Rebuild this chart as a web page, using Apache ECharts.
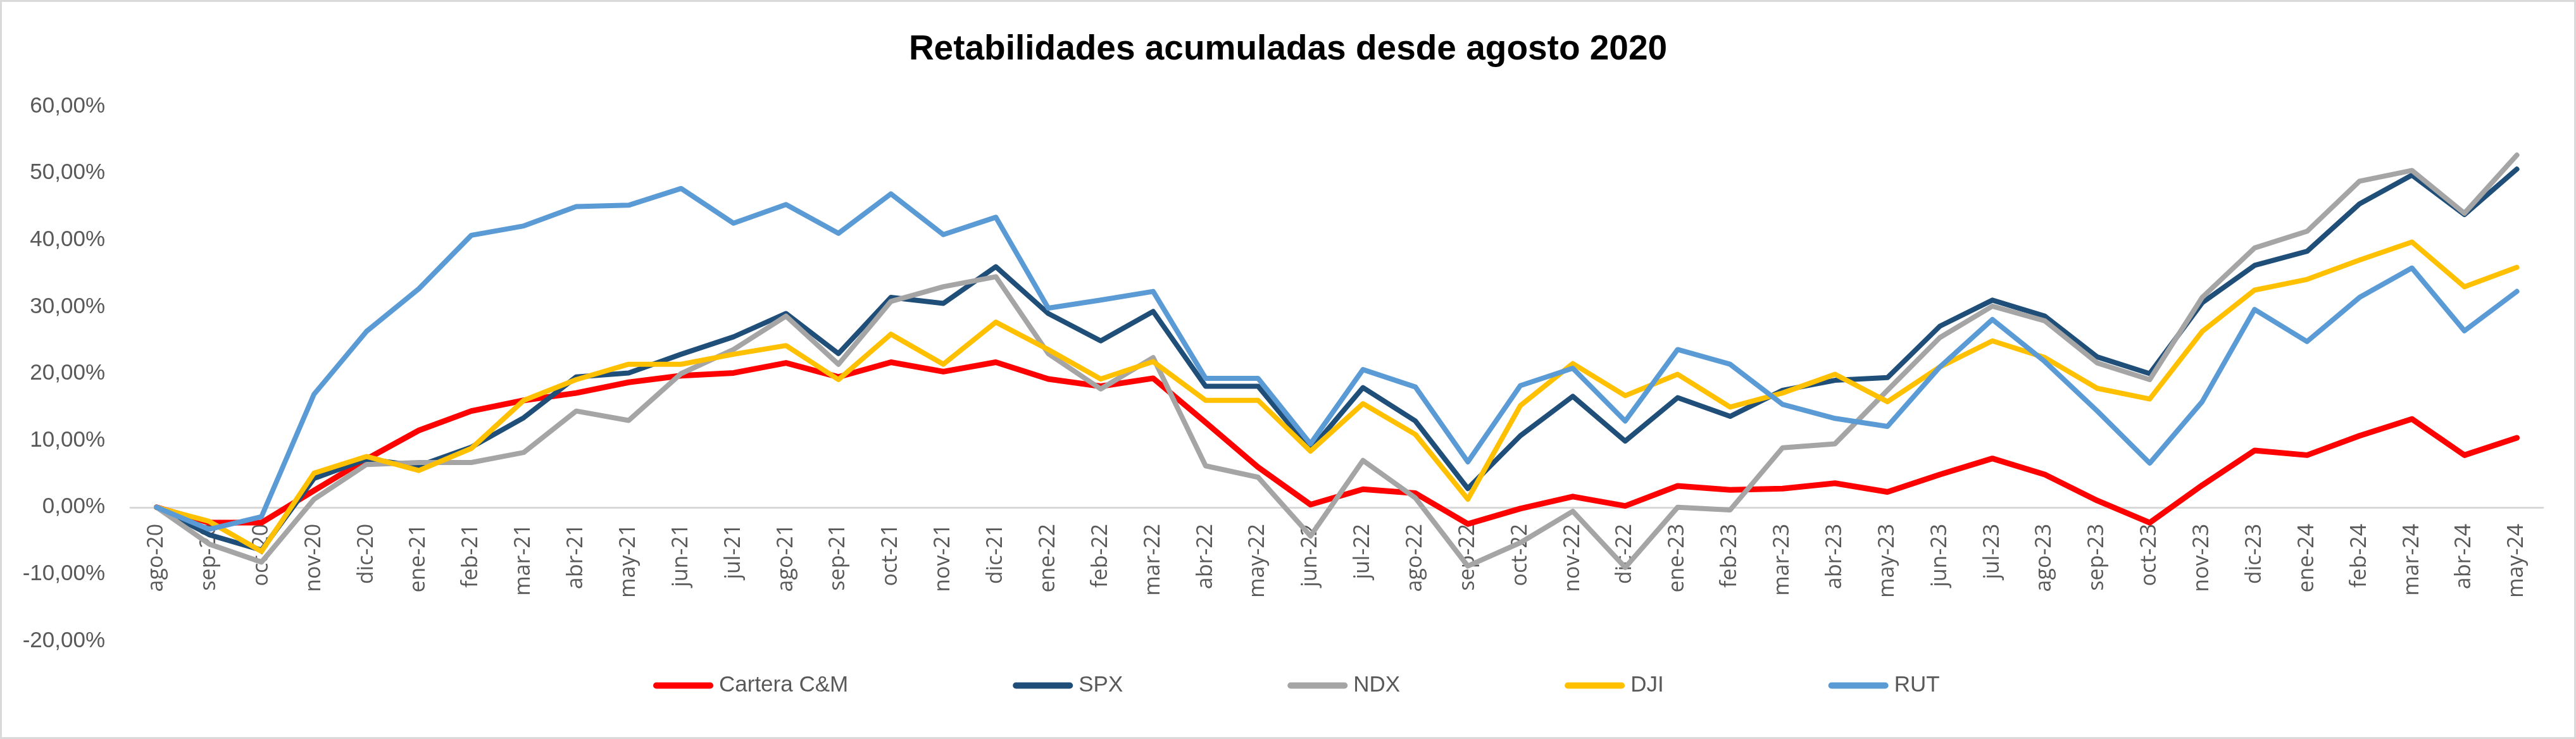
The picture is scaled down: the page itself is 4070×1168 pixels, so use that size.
<!DOCTYPE html>
<html>
<head>
<meta charset="utf-8">
<script src="https://cdn.jsdelivr.net/npm/echarts@6/dist/echarts.min.js"></script>
<style>
html,body{margin:0;padding:0;background:#fff;}
#chart{width:4070px;height:1168px;}
</style>
</head>
<body>
<div id="chart"></div>
<script>
const categories = ['ago-20','sep-20','oct-20','nov-20','dic-20',
  'ene-21','feb-21','mar-21','abr-21','may-21','jun-21','jul-21','ago-21','sep-21','oct-21','nov-21','dic-21',
  'ene-22','feb-22','mar-22','abr-22','may-22','jun-22','jul-22','ago-22','sep-22','oct-22','nov-22','dic-22',
  'ene-23','feb-23','mar-23','abr-23','may-23','jun-23','jul-23','ago-23','sep-23','oct-23','nov-23','dic-23',
  'ene-24','feb-24','mar-24','abr-24','may-24'];

const carteraCM = [0, -2.3, -2.3, 2.5, 7.2, 11.5, 14.4, 16.0, 17.1, 18.7, 19.7, 20.1, 21.6, 19.5, 21.7, 20.3,
  21.7, 19.2, 18.1, 19.3, 12.7, 6.0, 0.4, 2.7, 2.1, -2.5, -0.2, 1.6, 0.2, 3.2, 2.6, 2.8, 3.6, 2.3, 4.9, 7.3,
  4.9, 1.0, -2.3, 3.3, 8.5, 7.8, 10.7, 13.2, 7.8, 10.4];
const spx = [0, -4.1, -6.4, 4.3, 7.2, 6.2, 9.0, 13.4, 19.5, 20.1, 22.9, 25.5, 29.0, 23.0, 31.4, 30.5,
  36.0, 29.0, 24.9, 29.3, 18.1, 18.1, 8.6, 17.9, 12.9, 2.8, 10.7, 16.6, 9.9, 16.4, 13.6, 17.5, 19.0, 19.4, 27.1, 31.0,
  28.6, 22.5, 20.0, 30.6, 36.2, 38.3, 45.4, 49.7, 43.8, 50.6];
const ndx = [0, -5.5, -8.2, 1.2, 6.4, 6.7, 6.7, 8.2, 14.4, 13.0, 20.0, 23.6, 28.6, 21.4, 30.8, 33.0,
  34.5, 23.0, 17.7, 22.4, 6.2, 4.5, -4.3, 7.0, 1.4, -8.8, -5.3, -0.6, -9.0, 0.0, -0.4, 8.9, 9.5, 17.5, 25.4, 30.1,
  27.9, 21.6, 19.1, 31.4, 38.8, 41.3, 48.8, 50.4, 44.0, 52.7];
const dji = [0, -2.1, -6.6, 5.1, 7.6, 5.5, 8.8, 16.0, 19.1, 21.4, 21.4, 22.9, 24.2, 19.1, 25.9, 21.4,
  27.7, 23.6, 19.2, 21.8, 16.0, 16.0, 8.4, 15.5, 10.9, 1.2, 15.2, 21.5, 16.7, 19.9, 15.0, 17.1, 19.9, 15.8, 21.0, 24.9,
  22.4, 17.8, 16.2, 26.3, 32.5, 34.1, 37.0, 39.7, 33.0, 35.9];
const rut = [0, -3.3, -1.4, 16.9, 26.3, 32.7, 40.7, 42.1, 45.0, 45.2, 47.7, 42.5, 45.3, 41.0, 46.9, 40.8,
  43.4, 29.8, 31.0, 32.3, 19.3, 19.3, 9.5, 20.6, 18.0, 6.8, 18.2, 20.8, 12.9, 23.6, 21.4, 15.4, 13.3, 12.1, 21.0, 28.1,
  21.8, 14.4, 6.6, 15.8, 29.6, 24.8, 31.4, 35.8, 26.4, 32.3];

const seriesNames = ['Cartera C&M', 'SPX', 'NDX', 'DJI', 'RUT'];
const seriesColors = ['#FF0000', '#1F4E79', '#A5A5A5', '#FFC000', '#5B9BD5'];
const seriesData = [carteraCM, spx, ndx, dji, rut];
const seriesWidths = [9, 8, 8, 8, 8];

const yMin = -20, yMax = 60;
const gridTop = 168, gridBottom = 155, chartH = 1168;
const gridH = chartH - gridTop - gridBottom;
// move the category axis (line + labels) up to the zero value, as in the original
const zeroOffset = -gridH * (0 - yMin) / (yMax - yMin);

const chart = echarts.init(document.getElementById('chart'), null, {renderer: 'canvas'});
const legendIcon = 'path://M5,0 L90,0 A5,5 0 0 1 90,10 L5,10 A5,5 0 0 1 5,0 Z';

chart.setOption({
  animation: false,
  backgroundColor: '#ffffff',
  title: {
    text: 'Retabilidades acumuladas desde agosto 2020',
    left: 'center',
    top: 46,
    textStyle: {fontFamily: 'Liberation Sans', fontWeight: 'bold', fontSize: 55, color: '#000000'}
  },
  graphic: [{
    type: 'rect', shape: {x: 1.5, y: 1.5, width: 4067, height: 1165},
    style: {fill: 'none', stroke: '#D9D9D9', lineWidth: 3}, silent: true, z: 100
  }],
  legend: {
    left: 1027,
    top: 1061,
    itemGap: 260,
    itemWidth: 95,
    itemHeight: 11,
    textStyle: {fontFamily: 'Liberation Sans', fontSize: 35, color: '#595959', padding: [0, 0, 0, 4]},
    data: seriesNames.map((n, i) => ({name: n, icon: legendIcon, itemStyle: {color: seriesColors[i]}}))
  },
  grid: {left: 206, right: 52, top: gridTop, bottom: gridBottom, containLabel: false},
  xAxis: {
    type: 'category',
    data: categories,
    boundaryGap: true,
    offset: zeroOffset,
    axisLine: {show: true, onZero: false, lineStyle: {color: '#D9D9D9', width: 3}},
    axisTick: {show: false},
    axisLabel: {interval: 0, rotate: 90, margin: 26, fontFamily: 'Open Sans', fontSize: 34, color: '#595959'},
    splitLine: {show: false},
    z: 1
  },
  yAxis: {
    type: 'value',
    min: yMin, max: yMax, interval: 10,
    axisLine: {show: false},
    axisTick: {show: false},
    splitLine: {show: false},
    axisLabel: {
      margin: 40,
      fontFamily: 'Liberation Sans', fontSize: 35, color: '#595959',
      formatter: v => v.toFixed(2).replace('.', ',') + '%'
    }
  },
  series: seriesNames.map((n, i) => ({
    name: n,
    type: 'line',
    data: seriesData[i],
    showSymbol: false,
    symbol: 'none',
    lineStyle: {color: seriesColors[i], width: seriesWidths[i], cap: 'round', join: 'round'},
    itemStyle: {color: seriesColors[i]},
    z: 2 + i
  }))
});
</script>
</body>
</html>
